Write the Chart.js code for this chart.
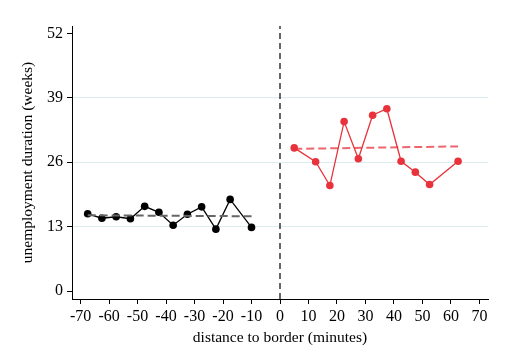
<!DOCTYPE html>
<html>
<head>
<meta charset="utf-8">
<script src="https://cdn.jsdelivr.net/npm/chart.js@4"></script>
<style>
  html, body { margin: 0; padding: 0; background: #fff; }
  #wrap { width: 510px; height: 352px; }
</style>
</head>
<body>
<div id="wrap"><canvas id="chart1"></canvas></div>
<script>
// --- data ---
const leftX = [-67.5, -62.5, -57.5, -52.5, -47.5, -42.5, -37.5, -32.5, -27.5, -22.5, -17.5, -10];
const leftY = [15.6, 14.7, 15.0, 14.6, 17.1, 15.9, 13.3, 15.5, 17.0, 12.5, 18.5, 12.85];
const rightX = [5, 12.5, 17.5, 22.5, 27.5, 32.5, 37.5, 42.5, 47.5, 52.5, 62.5];
const rightY = [28.9, 26.1, 21.3, 34.2, 26.7, 35.5, 36.8, 26.2, 24.0, 21.5, 26.2];
const leftFitX = [-67.5, -10];
const leftFitY = [15.3, 15.1];
const rightFitX = [5, 62.5];
const rightFitY = [28.7, 29.2];
const xTicks = [-70, -60, -50, -40, -30, -20, -10, 0, 10, 20, 30, 40, 50, 60, 70];
const yTicks = [0, 13, 26, 39, 52];
const yGridAt = [13, 26, 39];

const X_MIN = -73, X_MAX = 73, Y_MIN = -1.6, Y_MAX = 53.5;

const pts = (xs, ys) => xs.map((x, i) => ({ x: x, y: ys[i] }));
const red = "#e8333c";
const serif = "'Liberation Serif', 'Times New Roman', serif";

new Chart(document.getElementById("chart1"), {
  type: "line",
  data: {
    datasets: [
      {
        // cutoff at the border
        data: pts([0, 0], [Y_MIN, Y_MAX]),
        borderColor: "#000",
        borderWidth: 1.2,
        borderDash: [6, 4],
        pointRadius: 0
      },
      {
        data: pts(leftFitX, leftFitY),
        borderColor: "#666",
        borderWidth: 2,
        borderDash: [8, 4],
        pointRadius: 0
      },
      {
        data: pts(rightFitX, rightFitY),
        borderColor: "rgba(232,51,60,0.75)",
        borderWidth: 2,
        borderDash: [8, 4],
        pointRadius: 0
      },
      {
        data: pts(leftX, leftY),
        borderColor: "#000",
        backgroundColor: "#000",
        borderWidth: 1.3,
        pointRadius: 3.8,
        pointBorderWidth: 0
      },
      {
        data: pts(rightX, rightY),
        borderColor: red,
        backgroundColor: red,
        borderWidth: 1.3,
        pointRadius: 3.8,
        pointBorderWidth: 0
      }
    ]
  },
  options: {
    responsive: true,
    maintainAspectRatio: false,
    animation: false,
    layout: { padding: { top: 26, right: 22, left: 0, bottom: 0 } },
    plugins: { legend: { display: false }, tooltip: { enabled: false } },
    scales: {
      x: {
        type: "linear",
        min: X_MIN,
        max: X_MAX,
        afterBuildTicks: s => { s.ticks = xTicks.map(v => ({ value: v })); },
        afterFit: s => { s.height = 53; },
        border: { display: true, color: "#000", width: 1 },
        grid: { drawOnChartArea: false, tickColor: "#000", tickLength: 5 },
        ticks: { color: "#000", font: { family: serif, size: 16 }, padding: 3, maxRotation: 0, autoSkip: false },
        title: { display: true, text: "distance to border (minutes)", color: "#000",
                 font: { family: serif, size: 15.5 }, padding: { top: 2, bottom: 5 } }
      },
      y: {
        type: "linear",
        min: Y_MIN,
        max: Y_MAX,
        afterBuildTicks: s => { s.ticks = yTicks.map(v => ({ value: v })); },
        afterFit: s => { s.width = 72; },
        border: { display: true, color: "#000", width: 1 },
        grid: {
          color: c => (c.tick && yGridAt.includes(c.tick.value)) ? "#dcecf0" : "rgba(0,0,0,0)",
          tickColor: "#000",
          tickLength: 5
        },
        ticks: { color: "#000", font: { family: serif, size: 16 }, padding: 4 },
        title: { display: true, text: "unemployment duration (weeks)", color: "#000",
                 font: { family: serif, size: 15.5 }, padding: { top: 19, bottom: 8 } }
      }
    }
  }
});
</script>
</body>
</html>
